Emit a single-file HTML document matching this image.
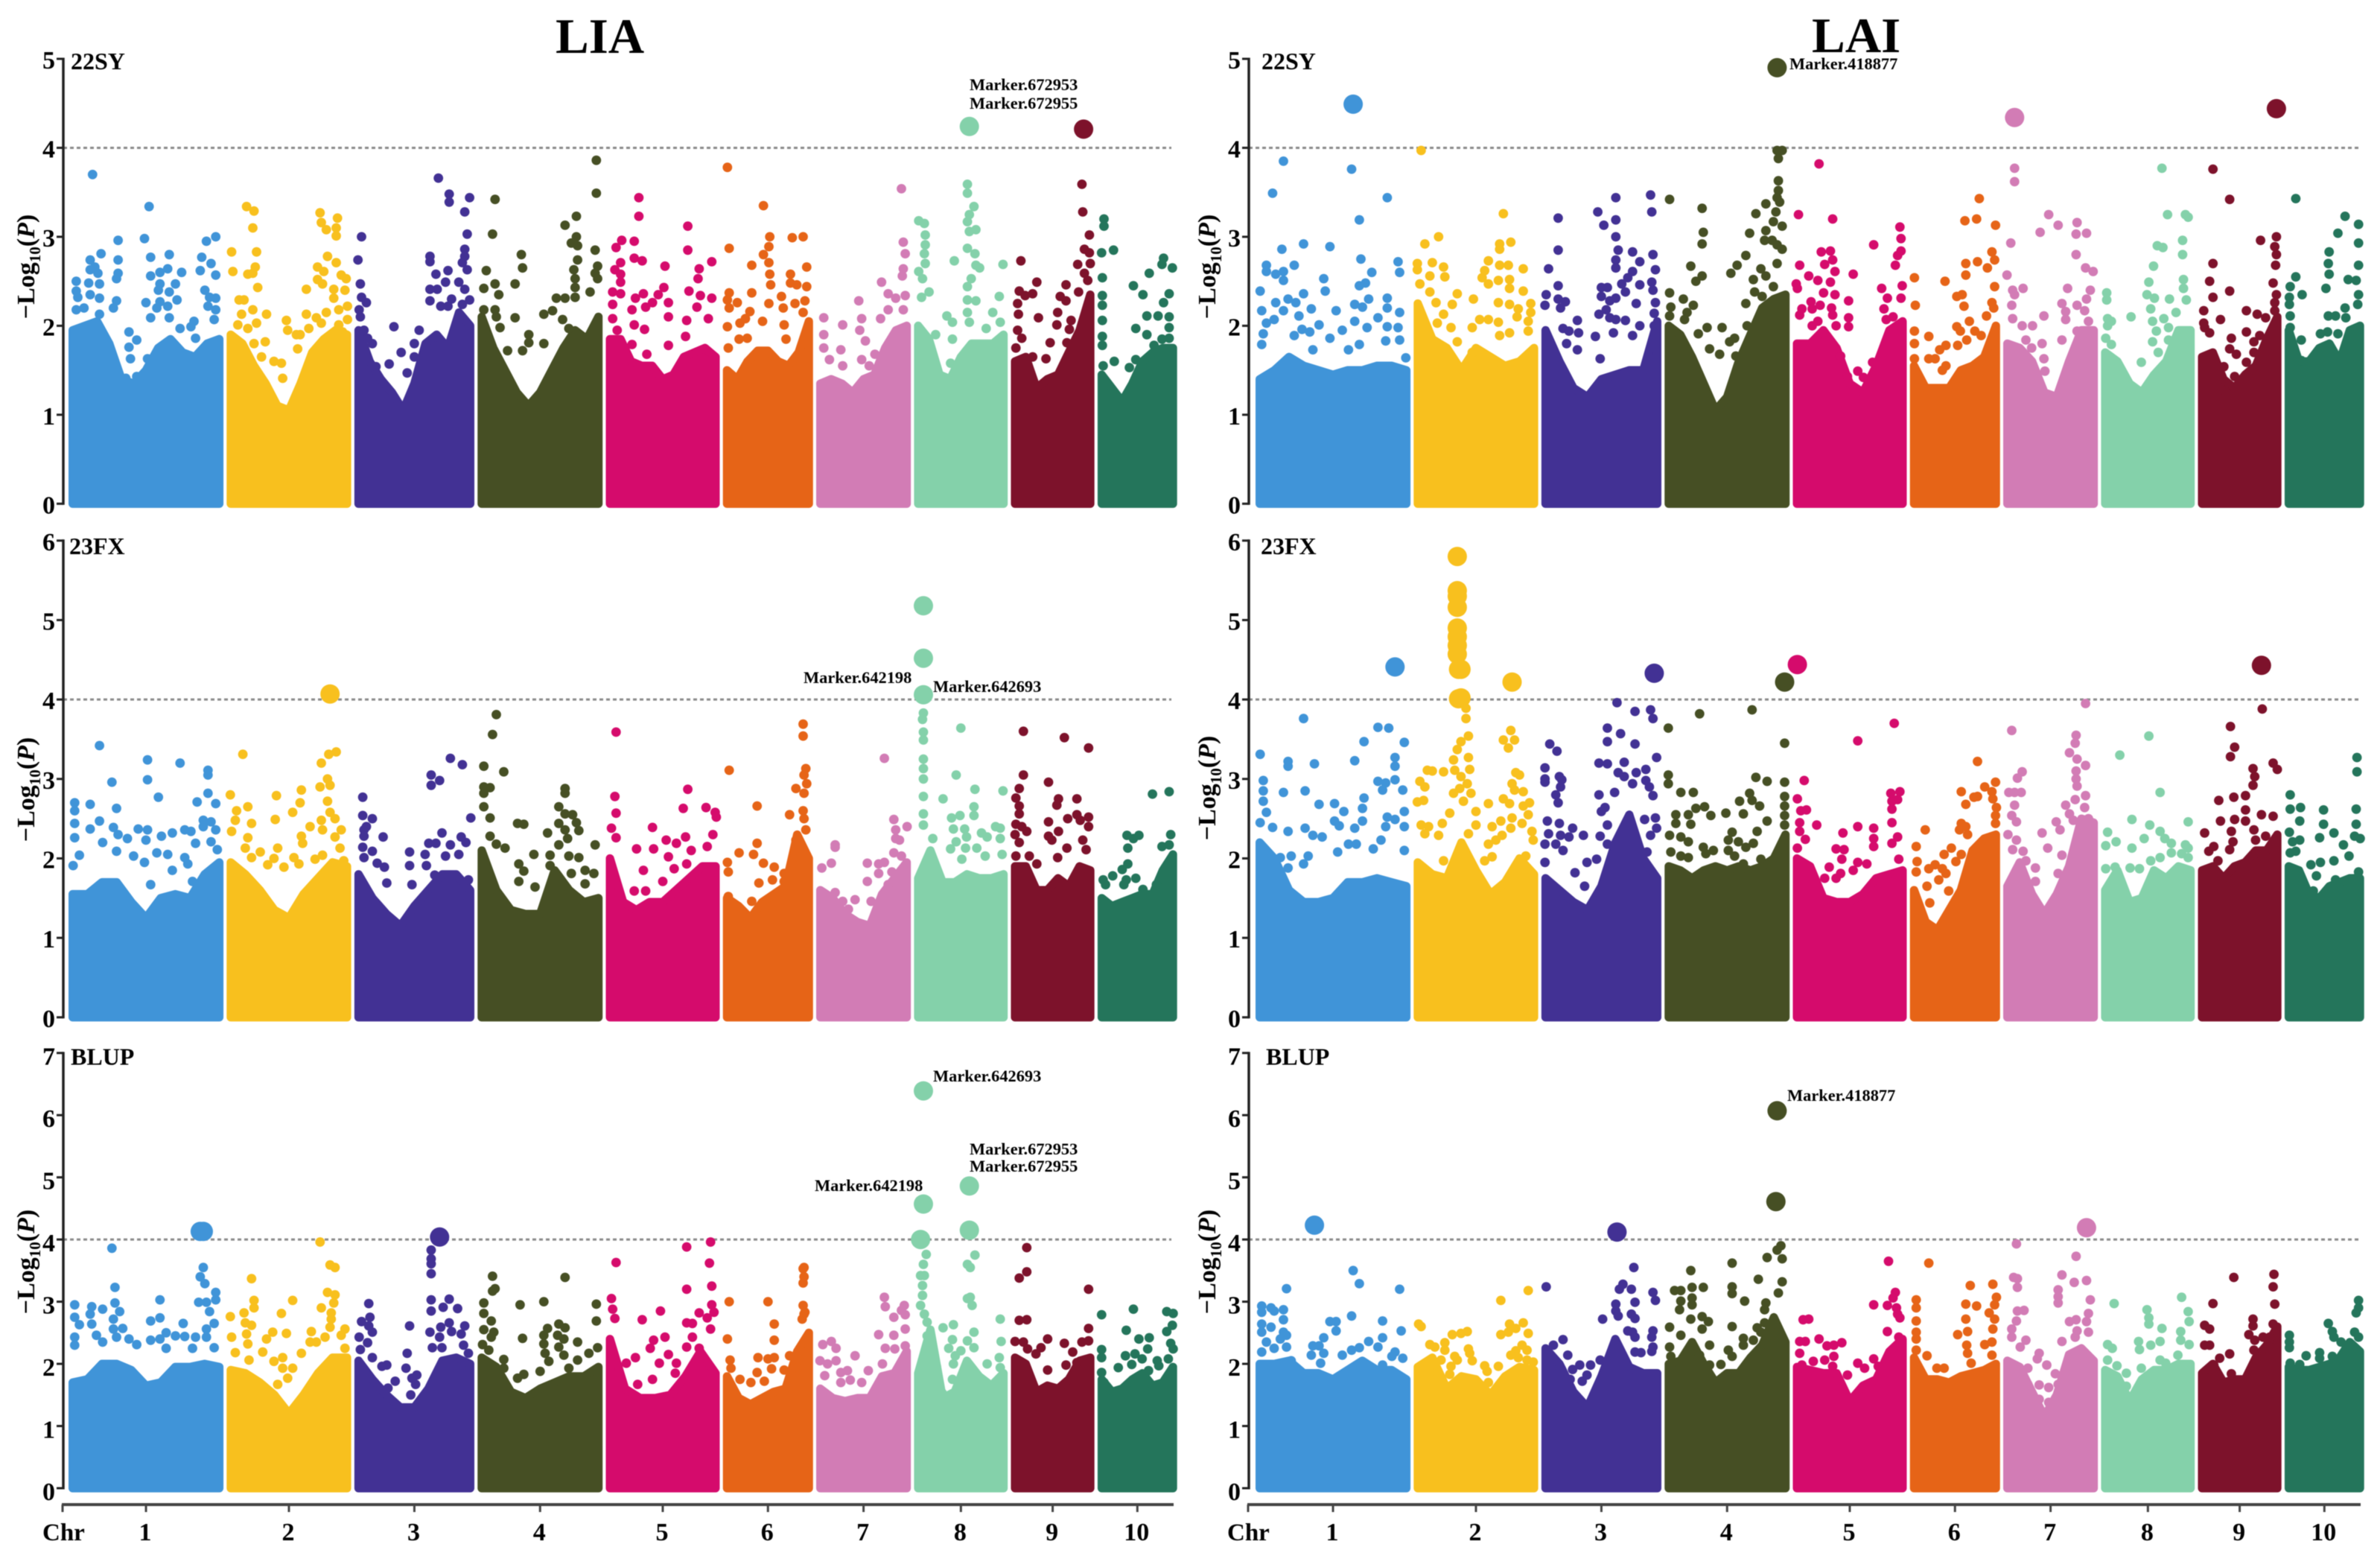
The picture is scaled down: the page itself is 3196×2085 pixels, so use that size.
<!DOCTYPE html>
<html lang="en">
<head>
<meta charset="utf-8">
<title>Manhattan plots of LIA and LAI</title>
<style>
html,body{margin:0;padding:0;background:#fff;}
#chart{display:block;filter:blur(.6px);}
text{font-family:"Liberation Serif",serif;font-weight:bold;fill:#000;}
</style>
</head>
<body>
<svg id="chart" xmlns="http://www.w3.org/2000/svg" width="3196" height="2085" viewBox="0 0 3196 2085">
<rect width="3196" height="2085" fill="#fff"/>
<text x="746" y="71" font-size="67">LIA</text>
<text x="2433" y="70" font-size="67">LAI</text>
<g id="plots"></g>
</svg>
<script>
// Shared categories and tick labels
const chrLabels = ["1","2","3","4","5","6","7","8","9","10"];
const chrLengthsMb = [306,246,237,247,225,178,187,185,165,157];
const yMaxima = [5,6,7];
const threshold = [4];
const panelTags = ["22SY","23FX","BLUP"];
const chrColors = ["#4094D8","#F8C01E","#423194","#464F24","#D50B6C","#E66417","#D27CB5","#84D1AA","#7D122B","#24755B"];

// LIA 22SY: solid-mass top per chromosome, scatter pairs (pct along chr, -log10P), highlighted peaks (chr, pct, -log10P)
const lia22syMass = [
[1.95,2.0,2.05,1.8,1.4,1.35,1.5,1.75,1.85,1.7,1.65,1.8,1.85],
[1.9,1.8,1.55,1.35,1.1,1.05,1.35,1.7,1.85,1.95,1.9],
[1.95,1.6,1.4,1.25,1.05,1.35,1.8,1.9,1.75,2.15,2.0],
[2.1,1.75,1.5,1.25,1.1,1.25,1.5,1.75,1.95,1.85,2.1],
[1.85,1.85,1.6,1.55,1.55,1.4,1.45,1.65,1.7,1.75,1.65],
[1.5,1.4,1.6,1.72,1.72,1.6,1.55,1.7,2.05],
[1.35,1.4,1.35,1.25,1.4,1.45,1.75,1.95,2.0],
[2.0,1.85,1.45,1.4,1.65,1.8,1.8,1.8,1.9],
[1.6,1.65,1.3,1.4,1.45,1.7,1.95,2.35],
[1.45,1.3,1.15,1.35,1.6,1.7,1.75,1.75]];
const lia22syDots = [
[15.5,3.7,52,3.34,49,2.98,32,2.96,95,3.0,89,2.95,53,2.77,65,2.8,86,2.77,21,2.81,14,2.74,32,2.74,17,2.66,92,2.7,73,2.6,85,2.62,95,2.57,53,2.56,59,2.6,64,2.64,32,2.59,31,2.53,14,2.63,19,2.59,5,2.5,13,2.48,20,2.47,59,2.47,69,2.47,5,2.39,14,2.35,58,2.4,65,2.38,88,2.4,6,2.32,20,2.31,70,2.29,31,2.28,95,2.31,91,2.32,50,2.26,59,2.27,10,2.2,5,2.18,29,2.2,57,2.2,64,2.22,95,2.18,90,2.22,53,2.09,20,2.13,65,2.09,81,2.05,94,2.07,39,1.93,44,1.84,72,1.97,82,1.86,79,1.99,39,1.76,40,1.63,51,1.63,37,1.41,44,1.43],
[16,3.34,22,3.29,21,3.1,24,2.83,4,2.83,5,2.61,17,2.58,23,2.66,21,2.59,25,2.43,10,2.29,14,2.29,12,2.13,21,2.18,32,2.13,24,2.03,9,2.01,17,1.97,31,1.82,22,1.8,28,1.65,38,1.6,44,1.58,48,2.06,49,1.95,56,1.9,45,1.41,59,1.9,57,1.74,75,3.27,76,3.16,80,3.08,89,3.21,88,3.1,88,3.01,81,2.78,73,2.66,78,2.61,88,2.71,73,2.52,77,2.47,92,2.57,96,2.53,64,2.41,86,2.41,95,2.4,86,2.31,97,2.22,64,2.13,80,2.15,90,2.18,72,2.09,97,2.07,76,2.03,66,1.97,90,2.01,93,1.93],
[6,3.0,3,2.74,5,2.47,6,2.32,10,2.26,4,2.18,5,2.1,8,1.95,15,1.8,11,1.86,18,1.54,33,1.99,54,1.95,50,1.8,39,1.7,50,1.65,29,1.57,44,1.47,70,3.66,79,3.48,79,3.39,96,3.44,92,3.28,94,3.03,92,2.86,92,2.78,63,2.78,63,2.72,90,2.71,94,2.63,78,2.62,68,2.58,76,2.49,87,2.49,63,2.41,69,2.41,92,2.41,63,2.28,81,2.3,96,2.29,72,2.22,78,2.22,90,2.24],
[95,3.86,95,3.49,14,3.42,12,3.03,79,3.23,70,3.13,79,3.0,75,2.93,80,2.9,94,2.85,35,2.8,80,2.74,96,2.67,36,2.65,7,2.62,77,2.63,94,2.59,96,2.53,78,2.53,14,2.47,5,2.42,30,2.47,78,2.43,17,2.35,90,2.38,63,2.31,70,2.31,78,2.32,60,2.17,53,2.13,30,2.09,14,2.18,15,2.1,5,2.18,18,1.98,41,1.9,41,1.81,53,1.8,68,2.07,73,1.97,36,1.72,24,1.72],
[29,3.44,29,3.23,14,2.96,9,2.88,25,2.95,25,2.76,32,2.73,13,2.71,8,2.63,13,2.58,13,2.49,6,2.38,13,2.36,33,2.36,26,2.31,35,2.21,41,2.26,46,2.35,51,2.43,55,2.26,55,2.1,52,2.67,72,3.12,72,2.85,93,2.72,82,2.64,81,2.53,73,2.39,83,2.34,93,2.31,6,2.24,6,2.08,23,2.18,25,2.01,34,1.96,23,1.79,71,2.06,80,2.21,90,2.08,70,1.88,55,1.78,36,1.68,10,1.95],
[5,3.78,45,3.35,7,2.87,52,3.0,77,2.99,89,3.0,51,2.89,45,2.8,93,2.66,32,2.68,51,2.71,52,2.58,75,2.58,53,2.46,75,2.48,82,2.46,93,2.44,7,2.37,32,2.37,5,2.29,16,2.26,7,2.2,65,2.33,80,2.25,91,2.28,51,2.25,67,2.2,30,2.16,19,2.03,25,2.08,5,1.99,44,2.05,68,2.01,70,1.85,18,1.85,27,1.86,6,1.75,89,2.15],
[90,3.54,92,2.94,94,2.81,92,2.64,91,2.56,69,2.49,76,2.36,94,2.34,84,2.31,45,2.28,8,2.09,28,2.01,48,2.08,76,2.18,92,2.18,68,2.08,8,1.9,46,1.95,52,1.83,8,1.75,26,1.73,48,1.62,14,1.62,62,1.68,56,1.55,28,1.55],
[57,3.59,57,3.49,64,3.34,59,3.25,57,3.17,66,3.08,59,3.06,5,3.18,11,3.15,12,3.02,12,2.91,11,2.81,12,2.7,5,2.61,9,2.53,16,2.38,8,2.32,43,2.73,57,2.87,65,2.81,66,2.68,70,2.65,95,2.69,61,2.53,57,2.44,91,2.33,57,2.29,66,2.28,57,2.15,84,2.15,35,2.11,41,2.04,59,2.04,77,1.97,92,2.04,23,1.9,41,1.85,39,1.58],
[85,3.59,86,3.28,94,3.02,88,2.86,94,2.82,80,2.69,95,2.7,12,2.73,88,2.59,92,2.51,31,2.49,66,2.46,10,2.39,26,2.36,17,2.34,81,2.38,59,2.33,66,2.28,8,2.25,56,2.15,9,2.13,33,2.09,72,2.06,55,2.01,70,1.96,8,1.95,13,1.86,47,1.81,67,1.81,6,1.75,26,1.65,42,1.63],
[8,3.2,8,3.12,20,2.85,5,2.82,6,2.54,6,2.34,6,2.23,6,2.06,6,1.88,6,1.78,7,1.55,21,1.6,48,1.62,83,2.76,81,2.69,94,2.65,65,2.59,45,2.45,57,2.35,90,2.36,83,2.26,90,2.1,62,2.11,76,2.11,48,1.97,90,1.98,62,1.9,81,1.85,90,1.86,71,1.78,40,1.53]];
const lia22syPeaks = [[8,59,4.24],[9,87,4.21]];

// LIA 23FX
const lia23fxMass = [
[1.55,1.55,1.7,1.7,1.45,1.25,1.5,1.55,1.5,1.8,1.95],
[1.95,1.8,1.6,1.35,1.25,1.55,1.75,1.95,1.9],
[1.8,1.5,1.3,1.15,1.4,1.6,1.8,1.8,1.6],
[2.1,1.6,1.35,1.3,1.3,1.85,1.6,1.45,1.5],
[2.0,1.45,1.35,1.45,1.45,1.6,1.75,1.9,1.9],
[1.5,1.4,1.25,1.45,1.55,1.65,2.3,2.0],
[1.6,1.5,1.3,1.2,1.15,1.55,1.75,1.95],
[1.75,2.1,1.7,1.7,1.8,1.75,1.75,1.8],
[1.9,1.9,1.6,1.6,1.75,1.65,1.9,1.85],
[1.5,1.4,1.45,1.5,1.55,1.55,1.85,2.05]];
const lia23fxDots = [
[20,3.42,51,3.24,72,3.2,90,3.11,90,3.05,28,2.96,51,2.99,58,2.77,90,2.82,4,2.7,14,2.68,4,2.6,31,2.63,83,2.71,95,2.69,4,2.44,20,2.47,14,2.37,29,2.39,45,2.37,51,2.36,4,2.26,32,2.3,60,2.28,67,2.32,75,2.36,79,2.34,87,2.48,92,2.46,95,2.36,87,2.4,38,2.25,50,2.23,22,2.2,82,2.19,92,2.21,57,2.07,7,2.04,42,2.03,31,2.09,64,2.05,75,2.01,96,2.11,3,1.91,49,1.95,77,1.93,67,1.85,53,1.67,80,1.71],
[13,3.31,88,3.34,82,3.31,76,3.2,81,3.0,75,2.9,83,2.92,60,2.86,3,2.8,40,2.79,59,2.7,81,2.72,17,2.65,53,2.58,8,2.6,83,2.58,7,2.48,39,2.49,76,2.48,87,2.5,20,2.44,67,2.4,77,2.36,92,2.36,4,2.34,60,2.28,61,2.19,87,2.27,17,2.26,41,2.13,15,2.13,91,2.13,27,2.08,54,2.01,77,2.04,38,2.0,20,2.01,94,1.97,58,1.93,33,1.92,71,1.99,46,1.89],
[80,3.26,90,3.18,64,3.05,64,2.92,71,2.98,7,2.77,7,2.54,15,2.5,97,2.51,8,2.36,10,2.4,8,2.28,24,2.27,73,2.32,89,2.27,62,2.19,68,2.19,93,2.2,80,2.17,7,2.14,15,2.09,46,2.08,59,2.05,87,2.05,8,2.01,46,1.91,19,1.94,25,1.89,60,1.91,76,2.03,67,1.79,48,1.67,27,1.69,95,1.73],
[15,3.81,12,3.56,5,3.16,21,3.09,70,2.88,5,2.9,10,2.89,5,2.82,70,2.82,5,2.65,65,2.65,10,2.51,70,2.56,76,2.55,32,2.44,37,2.43,65,2.44,79,2.45,56,2.32,70,2.36,81,2.35,72,2.25,10,2.28,15,2.18,22,2.13,94,2.17,65,2.17,45,2.05,58,2.04,81,2.01,73,2.03,58,1.91,33,1.93,86,1.85,37,1.84,93,1.81,75,1.81,33,1.71,46,1.64,86,1.68],
[9,3.59,72,2.87,8,2.78,9,2.57,68,2.63,88,2.64,97,2.52,96,2.58,5,2.38,41,2.39,94,2.3,53,2.23,70,2.27,62,2.19,27,2.12,42,2.12,75,2.1,89,2.15,9,2.26,55,2.02,33,1.85,60,1.87,71,1.93,50,1.71,25,1.59,35,1.59],
[89,3.69,89,3.54,7,3.11,92,3.13,90,3.05,93,2.94,81,2.88,90,2.82,38,2.66,74,2.55,89,2.6,90,2.5,92,2.36,81,2.23,38,2.19,18,2.07,34,2.05,5,1.95,45,1.94,77,1.93,57,1.89,68,1.81,6,1.83,55,1.73,40,1.69,68,1.71,32,1.46,6,1.52],
[72,3.26,20,2.17,20,2.14,82,2.49,84,2.36,96,2.4,84,2.25,88,2.23,82,2.07,90,2.03,54,1.94,66,1.93,72,1.95,16,1.94,6,1.88,66,1.81,80,1.83,54,1.71,76,1.67,20,1.57,41,1.48,28,1.46,58,1.46,34,1.36],
[10,3.83,9,3.75,10,3.59,10,3.49,10,3.25,10,3.13,10,3.0,10,2.78,50,3.64,45,3.05,65,2.87,95,2.85,31,2.75,64,2.65,64,2.54,40,2.51,49,2.54,10,2.56,10,2.42,87,2.4,42,2.37,54,2.37,72,2.32,92,2.38,20,2.25,56,2.27,78,2.27,92,2.25,45,2.21,55,2.13,67,2.13,39,2.12,94,2.05,76,2.03,51,1.99],
[15,3.6,64,3.52,93,3.39,15,3.05,45,2.96,10,2.88,6,2.76,57,2.75,79,2.75,55,2.67,10,2.66,10,2.56,68,2.5,79,2.55,93,2.52,83,2.48,45,2.46,6,2.43,93,2.4,13,2.4,57,2.34,19,2.34,5,2.3,45,2.28,49,2.23,10,2.2,86,2.23,67,2.13,90,2.11,6,2.03,22,2.03,56,2.01,31,1.93],
[69,2.81,90,2.84,37,2.29,52,2.29,45,2.25,92,2.3,38,2.13,81,2.15,90,2.17,38,1.93,31,1.86,19,1.78,7,1.73,10,1.67,36,1.73,48,1.75,33,1.67,57,1.61,74,1.67]];
const lia23fxPeaks = [[2,83,4.07],[8,10,5.18],[8,10,4.52],[8,10,4.06]];

// LIA BLUP
const liaBlupMass = [
[1.7,1.75,2.0,2.0,1.9,1.65,1.7,1.95,1.95,2.0,1.95],
[1.9,1.85,1.7,1.5,1.2,1.5,1.85,2.1,2.1],
[2.05,1.75,1.5,1.3,1.3,1.6,2.05,2.1,2.0],
[2.1,1.95,1.55,1.45,1.6,1.7,1.8,1.8,1.95],
[2.4,1.6,1.45,1.45,1.5,1.8,2.2,1.85],
[1.8,1.45,1.35,1.45,1.55,1.6,2.2,2.5],
[1.6,1.45,1.4,1.45,1.45,1.8,1.85,2.2],
[1.85,2.55,1.45,1.55,2.05,1.8,1.65,1.85],
[2.1,2.0,1.55,1.65,1.6,1.75,2.05,2.1],
[1.75,1.55,1.6,1.75,1.85,1.65,1.7,1.95]];
const liaBlupDots = [
[28,3.86,30,3.23,87,3.55,85,3.4,88,3.29,95,3.15,95,3.03,84,2.99,89,2.99,91,2.84,59,3.03,4,2.95,4,2.75,7,2.63,15,2.92,22,2.88,30,2.98,14,2.8,33,2.84,29,2.72,15,2.64,59,2.74,53,2.69,74,2.65,94,2.65,29,2.56,35,2.57,89,2.56,18,2.46,4,2.43,31,2.43,63,2.5,69,2.45,75,2.44,82,2.43,53,2.38,59,2.4,39,2.4,44,2.31,89,2.43,4,2.3,22,2.35,94,2.26,80,2.25,63,2.25],
[75,3.96,83,3.59,87,3.55,20,3.37,81,3.15,87,3.11,22,3.02,53,3.02,86,2.98,76,2.9,3,2.76,14,2.82,22,2.9,44,2.81,84,2.82,15,2.66,20,2.62,84,2.72,83,2.59,68,2.52,95,2.56,37,2.51,48,2.49,4,2.43,16,2.48,32,2.4,79,2.43,92,2.46,17,2.32,67,2.35,72,2.35,95,2.25,7,2.18,29,2.19,60,2.17,45,2.1,38,2.04,53,1.93,45,1.93,49,1.77,41,1.67,18,2.06],
[64,3.83,64,3.69,64,3.61,64,3.45,12,2.97,64,3.03,79,3.04,74,2.91,86,2.89,64,2.85,13,2.75,6,2.68,12,2.61,46,2.61,79,2.66,72,2.59,92,2.61,15,2.51,63,2.51,81,2.52,71,2.43,4,2.43,89,2.48,11,2.34,5,2.23,65,2.26,73,2.26,91,2.3,44,2.17,15,2.1,95,2.17,27,1.98,43,1.93,23,1.96,52,1.82,48,1.77,34,1.72,51,1.67,28,1.61,47,1.5],
[12,3.41,14,3.21,12,3.17,70,3.39,53,3.0,5,2.98,34,2.95,95,2.96,5,2.81,11,2.69,95,2.69,56,2.57,65,2.64,70,2.58,5,2.55,13,2.51,53,2.46,64,2.46,36,2.41,11,2.43,69,2.4,80,2.35,53,2.32,4,2.31,96,2.26,89,2.17,65,2.27,9,2.22,54,2.17,69,2.14,21,2.07,80,2.06,57,2.04,21,1.93,73,1.93,50,1.88,37,1.83,32,1.77],
[9,3.63,71,3.88,92,3.96,91,3.62,93,3.25,71,3.2,5,3.05,93,2.95,6,2.88,8,2.73,48,2.85,32,2.71,82,2.82,95,2.83,71,2.66,76,2.65,89,2.74,92,2.56,52,2.43,42,2.38,76,2.43,39,2.25,71,2.27,82,2.25,55,2.15,26,2.1,18,2.01,47,2.01,62,2.01,41,1.75,61,1.85,28,1.67],
[50,3.0,57,2.64,57,2.38,74,2.13,89,3.53,90,3.55,90,3.4,89,3.3,89,2.94,90,2.8,88,2.72,91,2.83,39,2.1,50,2.08,57,2.1,38,1.86,54,1.92,31,1.7,46,1.72,68,1.9,83,1.94,7,3.0,5,2.4,8,2.06,9,1.93,19,1.75],
[72,3.07,73,2.92,93,2.94,90,2.86,94,2.79,82,2.75,66,2.47,82,2.46,94,2.56,7,2.31,16,2.36,21,2.25,73,2.25,83,2.24,41,2.13,4,2.05,21,2.05,12,2.0,94,2.29,70,2.0,26,1.86,33,1.89,55,1.89,36,1.74,26,1.7,85,1.86,9,1.81,48,1.7],
[13,3.76,65,3.75,10,3.6,57,3.6,60,3.55,7,3.42,11,3.42,9,3.26,9,3.1,57,3.05,60,3.07,62,2.94,7,2.94,11,2.8,14,2.67,92,2.72,31,2.58,42,2.63,64,2.51,41,2.39,57,2.37,93,2.36,14,2.45,37,2.25,50,2.21,64,2.26,91,2.1,44,2.13,42,2.0,78,2.0,24,1.95,92,1.94,41,1.75,23,1.78,30,1.53],
[19,3.87,19,3.48,10,3.38,93,3.2,10,2.7,19,2.71,93,2.57,93,2.37,85,2.35,44,2.4,5,2.36,15,2.35,36,2.26,64,2.33,30,2.16,20,2.24,74,2.19,79,2.02,66,1.98,44,1.9],
[5,2.79,45,2.88,87,2.84,95,2.81,94,2.62,36,2.54,87,2.52,52,2.4,65,2.42,92,2.33,5,2.23,63,2.24,95,2.24,5,2.1,35,2.13,47,2.16,56,2.08,75,2.05,89,2.08,26,1.94,5,1.86,43,1.99,64,1.89,77,1.97,8,1.7]];
const liaBlupPeaks = [[1,85,4.13],[1,87,4.13],[3,71,4.04],[8,10,6.39],[8,10,4.57],[8,7,4.0],[8,59,4.86],[8,59,4.15]];

// LAI 22SY
const lai22syMass = [
[1.4,1.5,1.65,1.55,1.5,1.45,1.5,1.5,1.55,1.55,1.5],
[2.25,1.85,1.75,1.5,1.75,1.65,1.55,1.6,1.75],
[1.95,1.6,1.3,1.2,1.4,1.45,1.5,1.5,2.05],
[2.0,1.9,1.65,1.35,1.05,1.2,1.6,1.9,2.2,2.3,2.35],
[1.8,1.8,1.95,1.75,1.35,1.25,1.55,1.95,2.05],
[1.55,1.3,1.3,1.3,1.5,1.55,1.65,2.0],
[1.8,1.75,1.6,1.25,1.2,1.6,1.95,1.95],
[1.7,1.6,1.35,1.25,1.45,1.6,1.95,1.95],
[1.65,1.7,1.4,1.3,1.45,1.55,1.85,2.1],
[1.95,1.6,1.6,1.75,1.8,1.6,1.95,2.0]];
const lai22syDots = [
[18,3.85,11,3.49,62,3.76,85,3.44,67,3.19,31,2.92,17,2.86,48,2.89,7,2.68,25,2.68,68,2.75,92,2.72,7,2.61,18,2.61,13,2.58,75,2.6,93,2.6,18,2.51,44,2.53,3,2.39,45,2.39,67,2.45,71,2.48,31,2.36,21,2.3,26,2.26,13,2.26,85,2.31,73,2.3,64,2.24,69,2.21,85,2.2,4,2.17,36,2.19,52,2.17,18,2.17,93,2.15,28,2.11,79,2.09,7,2.03,12,2.07,41,2.01,35,1.93,30,1.96,56,1.95,64,2.05,72,1.98,85,1.99,92,1.98,5,1.91,25,1.89,48,1.86,84,1.83,4,1.79,93,1.84,37,1.73,60,1.73,67,1.79,97,1.64],
[6,3.97,72,3.26,20,3.0,9,2.92,78,2.94,69,2.92,69,2.86,3,2.7,15,2.71,24,2.66,60,2.73,69,2.68,76,2.68,88,2.64,57,2.62,3,2.63,13,2.56,25,2.55,68,2.51,77,2.52,55,2.54,5,2.47,60,2.47,77,2.42,88,2.39,35,2.36,48,2.3,13,2.38,68,2.26,18,2.26,31,2.24,77,2.24,94,2.25,84,2.19,94,2.15,24,2.13,83,2.1,53,2.07,60,2.07,68,2.04,92,2.05,19,2.03,30,1.98,47,1.98,92,1.94,77,1.92,69,1.89,35,1.82,47,1.7],
[14,3.21,62,3.44,91,3.47,92,3.28,47,3.28,52,3.13,62,3.19,62,3.0,14,2.85,64,2.85,76,2.83,93,2.8,6,2.64,62,2.74,82,2.72,62,2.65,76,2.61,95,2.63,72,2.54,67,2.47,82,2.46,14,2.45,92,2.49,50,2.43,55,2.43,70,2.38,93,2.4,4,2.35,50,2.33,62,2.31,95,2.26,14,2.3,20,2.27,79,2.25,3,2.23,16,2.2,57,2.28,54,2.18,48,2.13,94,2.14,57,2.09,62,2.07,70,2.06,30,2.06,82,2.0,94,2.0,18,1.97,23,1.94,31,1.92,45,1.88,60,1.92,76,1.89,21,1.8,30,1.73,49,1.63],
[90,3.97,94,3.97,91,3.88,91,3.63,4,3.42,30,3.32,91,3.52,90,3.44,92,3.39,81,3.37,73,3.26,89,3.28,31,3.05,68,3.04,87,3.17,94,3.12,81,3.07,30,2.92,80,2.96,86,2.96,90,2.91,94,2.86,65,2.79,58,2.68,21,2.67,77,2.64,90,2.7,53,2.59,30,2.56,25,2.5,71,2.52,81,2.56,4,2.37,72,2.38,87,2.44,78,2.33,15,2.3,5,2.21,23,2.23,65,2.25,4,2.11,18,2.15,16,2.07,66,2.0,46,1.98,34,1.98,27,1.91,56,1.86,52,1.82,36,1.74,44,1.68,57,1.66,60,1.54],
[23,3.82,5,3.25,35,3.2,94,3.11,95,2.98,71,2.91,25,2.83,33,2.84,95,2.84,6,2.68,28,2.69,35,2.74,92,2.79,90,2.68,14,2.56,22,2.51,37,2.61,53,2.58,33,2.49,3,2.47,4,2.42,78,2.42,96,2.45,27,2.37,37,2.35,83,2.31,95,2.31,49,2.28,16,2.27,24,2.23,8,2.19,17,2.19,34,2.2,80,2.19,49,2.09,49,1.99,6,2.12,22,2.05,35,2.12,82,2.07,88,2.1,38,2.0,17,2.0,42,1.66,70,1.59,57,1.49,48,1.43,62,1.42],
[77,3.43,61,3.18,74,3.2,95,3.13,91,2.83,62,2.7,75,2.72,94,2.74,86,2.65,62,2.57,5,2.54,39,2.5,94,2.44,6,2.23,52,2.33,58,2.35,91,2.26,60,2.22,93,2.2,85,2.11,66,2.05,5,1.94,21,1.88,52,1.99,72,1.94,56,1.94,79,1.89,63,1.84,5,1.8,53,1.78,33,1.73,40,1.78,21,1.63,28,1.63,40,1.55,5,1.63,36,1.5],
[12,3.77,12,3.62,48,3.25,58,3.13,78,3.16,39,3.05,77,3.03,88,3.04,8,2.93,77,2.8,87,2.65,95,2.61,4,2.57,10,2.4,21,2.42,68,2.42,92,2.4,12,2.35,9,2.23,88,2.3,62,2.25,78,2.23,10,2.08,43,2.11,66,2.16,86,2.17,20,2.0,31,2.0,66,2.07,90,2.05,41,1.8,24,1.84,78,1.94,43,1.63,30,1.75,62,1.84,44,1.49],
[65,3.77,71,3.25,90,3.25,93,3.22,87,2.96,60,2.9,66,2.88,87,2.8,56,2.67,88,2.52,51,2.49,6,2.37,88,2.42,6,2.29,49,2.35,57,2.31,73,2.3,91,2.29,53,2.19,80,2.15,32,2.1,7,2.08,11,2.05,67,2.08,55,2.05,7,2.0,72,1.98,5,1.86,59,1.94,55,1.82,72,1.84,11,1.79,61,1.7,43,1.59],
[18,3.76,38,3.42,75,2.96,94,3.0,92,2.89,94,2.8,93,2.68,18,2.7,14,2.5,90,2.48,38,2.39,18,2.32,94,2.35,92,2.26,7,2.17,58,2.17,71,2.13,81,2.09,92,2.17,27,2.07,7,2.03,8,1.98,14,1.92,58,1.93,74,1.89,40,1.86,67,1.82,38,1.74,46,1.68,67,1.7,58,1.59,31,1.54,44,1.43,32,1.27],
[14,3.43,76,3.23,93,3.14,67,3.04,93,2.93,56,2.83,55,2.7,93,2.68,56,2.58,14,2.55,80,2.52,90,2.51,7,2.44,52,2.42,22,2.35,93,2.35,6,2.32,6,2.24,76,2.2,92,2.24,7,2.11,55,2.11,64,2.11,77,2.09,7,1.98,21,1.84,45,1.91,67,1.91,54,1.93,21,1.61]];
const lai22syPeaks = [[1,63,4.49],[4,90,4.9],[7,12,4.34],[9,94,4.44]];

// LAI 23FX
const lai23fxMass = [
[2.2,2.0,1.6,1.45,1.45,1.5,1.7,1.7,1.75,1.7,1.65],
[1.95,1.8,1.75,2.2,1.85,1.55,1.7,2.0,1.8],
[1.75,1.6,1.45,1.35,1.65,2.2,2.55,2.0,1.75],
[1.9,1.85,1.75,1.85,1.9,1.85,1.9,1.85,1.9,2.0,2.3],
[2.0,1.9,1.5,1.45,1.45,1.55,1.75,1.8,1.85],
[1.6,1.2,1.1,1.35,1.6,2.1,2.25,2.3],
[1.65,1.95,1.55,1.3,1.55,1.9,2.5,2.45],
[1.6,1.85,1.45,1.5,1.85,1.75,1.9,1.85],
[1.85,1.9,1.75,1.9,1.95,2.1,2.1,2.3],
[1.9,1.85,1.55,1.5,1.65,1.7,1.75,1.75]];
const lai23fxDots = [
[31,3.76,79,3.65,86,3.64,70,3.47,96,3.46,3,3.31,21,3.22,21,3.16,38,3.19,64,3.23,90,3.27,90,3.16,5,2.98,90,2.99,79,2.97,84,2.95,5,2.85,32,2.85,18,2.83,95,2.86,82,2.86,5,2.72,70,2.76,41,2.68,51,2.69,69,2.63,7,2.58,57,2.59,96,2.59,85,2.52,90,2.49,3,2.45,51,2.47,69,2.47,11,2.39,21,2.34,32,2.38,54,2.41,64,2.38,96,2.4,84,2.4,43,2.27,37,2.29,81,2.23,65,2.18,60,2.18,16,2.01,23,2.03,34,2.03,53,2.08,76,2.12,96,2.1,31,1.93,21,1.88],
[42,3.89,42,3.76,78,3.61,81,3.49,72,3.49,76,3.39,44,3.54,38,3.47,35,3.37,32,3.24,44,3.27,45,3.12,11,3.11,15,3.1,24,3.09,33,3.11,38,3.03,82,3.08,85,3.05,5,2.97,9,2.9,43,2.94,79,2.94,37,2.88,32,2.82,46,2.82,88,2.84,81,2.86,3,2.71,8,2.73,60,2.69,72,2.75,77,2.69,93,2.7,88,2.66,40,2.72,29,2.57,50,2.59,92,2.55,70,2.47,79,2.51,87,2.44,23,2.44,6,2.42,12,2.4,50,2.42,63,2.4,78,2.38,95,2.34,9,2.31,20,2.29,44,2.31,71,2.29,60,2.18,96,2.23,66,2.23,90,2.03,57,1.97,63,2.02,24,1.97],
[63,3.96,78,3.85,91,3.87,93,3.76,55,3.64,66,3.57,7,3.44,13,3.35,55,3.47,78,3.44,96,3.27,48,3.2,55,3.19,69,3.21,3,3.14,87,3.12,3,3.0,15,3.03,64,3.08,69,3.03,79,3.08,87,2.98,3,2.96,17,2.99,16,2.9,76,2.94,90,2.9,12,2.8,48,2.8,61,2.83,93,2.79,14,2.7,53,2.64,50,2.59,95,2.51,5,2.47,15,2.44,86,2.49,55,2.42,26,2.38,96,2.38,6,2.31,16,2.29,35,2.29,23,2.27,49,2.28,91,2.29,3,2.18,12,2.18,55,2.18,18,2.1,3,1.95,38,1.95,46,1.99,88,2.08,28,1.82,36,1.65],
[70,3.87,28,3.82,3,3.64,3,3.05,3,2.94,73,3.02,82,2.97,13,2.83,23,2.83,68,2.82,70,2.73,60,2.72,76,2.66,25,2.63,32,2.65,9,2.55,37,2.54,49,2.57,63,2.56,19,2.55,9,2.44,21,2.43,82,2.47,74,2.34,4,2.29,54,2.33,13,2.27,51,2.23,19,2.21,59,2.21,71,2.19,31,2.14,65,2.14,5,2.08,39,2.1,51,2.1,13,2.03,19,2.01,33,2.06,56,2.03,77,1.99,63,1.93,96,3.45,96,2.96,96,2.78,96,2.66,96,2.54,96,2.42],
[89,3.7,57,3.48,10,2.98,4,2.75,86,2.82,94,2.84,92,2.74,87,2.72,7,2.6,12,2.61,87,2.62,87,2.45,6,2.45,21,2.42,57,2.4,71,2.38,6,2.34,44,2.32,71,2.25,11,2.24,92,2.27,71,2.15,87,2.19,4,2.13,38,2.12,45,2.11,43,1.99,93,1.99,57,1.95,65,1.93,32,1.89,53,1.85,42,1.81,28,1.75,38,1.75],
[75,3.22,95,2.96,83,2.9,57,2.84,91,2.84,71,2.77,75,2.78,92,2.75,62,2.68,96,2.64,95,2.54,95,2.44,57,2.44,62,2.4,17,2.36,55,2.36,64,2.3,7,2.15,46,2.13,38,2.05,8,1.96,57,2.05,51,1.96,28,1.92,21,1.87,36,1.87,7,1.83,40,1.81,32,1.73,19,1.65,43,1.59,22,1.44],
[87,3.95,9,3.61,77,3.55,76,3.45,70,3.33,78,3.25,87,3.17,20,3.09,15,3.01,77,3.1,77,3.0,78,2.91,6,2.83,12,2.83,19,2.83,87,2.79,76,2.74,12,2.67,66,2.67,86,2.64,9,2.54,70,2.56,14,2.46,56,2.46,74,2.48,90,2.5,5,2.3,41,2.32,60,2.36,14,2.23,10,2.11,47,2.13,21,2.09,62,2.04,34,1.88,24,1.97,58,1.81,34,1.71],
[51,3.54,20,3.3,63,2.83,33,2.49,93,2.46,52,2.42,7,2.33,63,2.34,16,2.21,46,2.25,5,2.16,33,2.13,68,2.25,75,2.19,90,2.17,93,2.13,75,2.07,63,2.01,86,2.06,93,2.01,15,1.89,5,1.87,31,1.88,41,1.87,53,1.97],
[77,3.88,39,3.66,44,3.4,39,3.28,90,3.2,95,3.12,66,3.13,68,3.03,66,2.92,25,2.73,43,2.77,57,2.79,57,2.61,76,2.55,90,2.53,27,2.47,44,2.49,57,2.47,8,2.32,40,2.34,67,2.36,81,2.28,19,2.15,42,2.21,69,2.23,13,2.09,38,2.11,67,2.05,24,1.97,92,2.11],
[91,3.27,91,3.09,7,2.8,7,2.62,20,2.64,49,2.61,90,2.62,19,2.47,49,2.43,90,2.43,6,2.33,62,2.32,44,2.26,88,2.28,95,2.25,10,2.21,19,2.23,74,2.17,7,2.07,14,2.09,81,2.03,33,1.92,45,1.95,62,1.97,40,1.78,93,1.83,64,1.73,36,1.59]];
const lai23fxPeaks = [[1,90,4.41],[2,35,5.8],[2,35,5.37],[2,35,5.3],[2,35,5.16],[2,35,4.9],[2,35,4.79],[2,35,4.68],[2,35,4.57],[2,36,4.38],[2,38,4.38],[2,36,4.01],[2,38,4.02],[2,79,4.22],[3,94,4.33],[4,96,4.22],[5,4,4.44],[9,76,4.43]];

// LAI BLUP
const laiBlupMass = [
[2.0,2.0,2.05,1.85,1.85,1.75,1.9,2.05,1.9,1.9,1.75],
[1.95,2.1,1.6,1.8,1.75,1.5,1.8,1.95,1.9],
[2.25,2.0,1.55,1.3,1.8,2.4,1.95,1.85,1.85],
[2.0,2.05,2.35,2.0,1.7,1.85,1.85,2.1,2.3,2.75,2.35],
[1.95,1.9,1.85,1.85,1.4,1.65,1.75,2.2,2.4],
[2.1,1.75,1.75,1.7,1.8,1.85,1.9,2.0],
[2.05,1.95,1.55,1.15,1.5,2.15,2.25,2.05],
[1.9,1.8,1.4,1.75,1.9,1.9,2.0,2.0],
[1.85,2.0,1.7,1.75,1.75,2.1,2.3,2.6],
[1.95,1.9,1.9,1.95,2.0,2.1,2.35,2.2]];
const laiBlupDots = [
[63,3.5,67,3.29,20,3.21,93,3.2,4,2.93,10,2.9,18,2.87,4,2.83,12,2.85,62,2.77,18,2.71,48,2.68,52,2.68,82,2.69,4,2.64,10,2.59,52,2.53,94,2.53,4,2.51,18,2.51,20,2.46,44,2.42,82,2.42,7,2.35,16,2.4,37,2.29,41,2.29,73,2.36,67,2.26,79,2.27,62,2.22,20,2.27,12,2.25,4,2.19,90,2.19,44,2.17,56,2.14,36,2.14,88,2.12,95,2.09,23,2.05,42,2.01,82,1.98],
[92,3.18,70,3.02,4,2.64,6,2.6,31,2.47,38,2.49,43,2.52,70,2.47,77,2.64,82,2.57,88,2.66,76,2.51,92,2.49,13,2.31,17,2.27,25,2.34,87,2.3,44,2.24,25,2.22,91,2.22,82,2.21,78,2.14,33,2.12,45,2.17,22,2.06,35,2.06,84,2.1,91,2.06,96,2.03,47,2.05,57,1.97,30,1.96,68,1.96,59,1.88,19,1.87,29,1.83,60,1.7,25,1.64,30,1.62],
[4,3.24,77,3.55,68,3.28,65,3.2,75,3.2,93,3.15,95,3.02,78,2.99,62,2.96,62,2.85,64,2.77,75,2.8,78,2.73,51,2.72,72,2.53,76,2.51,93,2.53,92,2.43,78,2.43,93,2.27,18,2.39,10,2.3,78,2.19,83,2.18,92,2.2,22,2.14,49,2.06,41,1.98,32,1.98,26,1.91,38,1.82,34,1.72,24,1.75],
[93,3.9,90,3.83,82,3.71,94,3.69,54,3.62,21,3.5,75,3.36,94,3.32,8,3.18,13,3.18,22,3.23,31,3.23,54,3.24,54,3.13,91,3.14,22,3.06,64,3.01,13,3.01,81,2.98,22,2.95,12,2.87,80,2.87,30,2.76,21,2.72,35,2.68,4,2.59,54,2.6,74,2.58,80,2.66,30,2.56,63,2.41,71,2.38,77,2.51,13,2.46,36,2.3,4,2.27,63,2.3,51,2.22,54,2.12,5,2.12,28,2.14,36,1.98,45,1.99],
[84,3.65,90,3.15,71,2.95,83,2.94,88,3.06,91,2.9,92,2.8,94,2.74,9,2.71,14,2.72,83,2.52,6,2.36,11,2.36,23,2.4,30,2.29,36,2.3,43,2.34,6,2.17,93,2.43,36,2.12,71,2.08,18,2.04,28,2.06,57,2.01,8,1.98,63,1.93,48,1.82,35,1.96,75,1.96],
[21,3.62,67,3.26,92,3.28,96,3.07,7,3.03,62,2.96,74,2.93,94,2.95,7,2.9,88,2.82,94,2.72,62,2.72,7,2.69,7,2.51,64,2.52,92,2.56,53,2.47,7,2.4,83,2.31,63,2.3,91,2.35,7,2.22,64,2.17,19,2.13,38,1.93,30,1.93,68,2.01,91,2.14],
[14,3.93,77,3.73,62,3.43,11,3.39,15,3.37,75,3.31,88,3.34,15,3.23,58,3.19,58,3.08,58,2.98,92,3.03,15,2.85,22,2.86,90,2.81,14,2.69,70,2.68,77,2.71,88,2.68,9,2.56,78,2.53,90,2.51,9,2.43,24,2.38,62,2.36,76,2.43,18,2.27,38,2.17,36,2.08,46,1.98,26,1.93,55,1.84,26,1.67,38,1.66,58,1.67,48,1.62,38,1.43,48,1.38],
[14,2.97,86,3.07,49,2.87,93,2.84,51,2.74,51,2.64,94,2.68,65,2.57,85,2.52,40,2.36,85,2.38,7,2.31,12,2.25,63,2.36,41,2.23,53,2.3,94,2.31,82,2.14,7,2.06,63,2.06,17,1.97,69,2.01,27,1.85,43,1.93,27,1.64],
[91,3.44,43,3.39,90,3.24,18,2.97,92,2.96,8,2.62,14,2.56,66,2.72,66,2.61,90,2.64,8,2.3,14,2.3,61,2.47,68,2.38,78,2.43,86,2.43,38,2.16,67,2.22,26,2.09,19,1.98,76,2.12,40,1.84],
[93,3.02,93,2.9,90,2.82,55,2.65,60,2.52,6,2.46,6,2.35,6,2.26,62,2.43,71,2.35,88,2.51,93,2.43,27,2.13,44,2.18,44,2.09,60,2.12,7,2.01,19,1.99]];
const laiBlupPeaks = [[1,38,4.23],[3,63,4.12],[4,90,6.07],[4,89,4.61],[7,88,4.19]];

// Marker annotations: [text, x, baseline y]
const labelsLia22sy = [["Marker.672953",1302,121],["Marker.672955",1302,146]];
const labelsLia23fx = [["Marker.642198",1079,917],["Marker.642693",1253,929]];
const labelsLiaBlup = [["Marker.642693",1253,1452],["Marker.672953",1302,1550],["Marker.672955",1302,1573],["Marker.642198",1094,1599]];
const labelsLai22sy = [["Marker.418877",2403,93]];
const labelsLai23fx = [];
const labelsLaiBlup = [["Marker.418877",2400,1478]];

// Layout (not data)
const SVGNS = "http://www.w3.org/2000/svg";
const rows = [{top:79,base:676.3,labelDrop:13},{top:725.8,base:1365.8,labelDrop:13},{top:1413.7,base:1998,labelDrop:16}];
const cols = [
  {key:"lia",axisX:85,startX:92,lineEnd:1576,tagX:[95,93,95],titleX:46,titleCY:[358,1060,1694],chrX:57},
  {key:"lai",axisX:1677,startX:1686,lineEnd:3170,tagX:[1694,1693,1700],titleX:1632,titleCY:[358,1058,1694],chrX:1648}
];
const pxPerMb = 0.68;
const gapMb = 6.25;
const massR = 5.6;
const dotR = 6.4;
const peakR = 13;
const panels = [
  {col:0,row:0,mass:lia22syMass,dots:lia22syDots,peaks:lia22syPeaks,labels:labelsLia22sy},
  {col:0,row:1,mass:lia23fxMass,dots:lia23fxDots,peaks:lia23fxPeaks,labels:labelsLia23fx},
  {col:0,row:2,mass:liaBlupMass,dots:liaBlupDots,peaks:liaBlupPeaks,labels:labelsLiaBlup},
  {col:1,row:0,mass:lai22syMass,dots:lai22syDots,peaks:lai22syPeaks,labels:labelsLai22sy},
  {col:1,row:1,mass:lai23fxMass,dots:lai23fxDots,peaks:lai23fxPeaks,labels:labelsLai23fx},
  {col:1,row:2,mass:laiBlupMass,dots:laiBlupDots,peaks:laiBlupPeaks,labels:labelsLaiBlup}
];

function make(tag, attrs, parent, text){
  const el = document.createElementNS(SVGNS, tag);
  for (const k in attrs) el.setAttribute(k, attrs[k]);
  if (text !== undefined) el.textContent = text;
  parent.appendChild(el);
  return el;
}
function chrOffsetMb(c){
  let s = 0;
  for (let i = 0; i < c; i++) s += chrLengthsMb[i] + gapMb;
  return s;
}
function xScale(col, c, pct){
  return col.startX + (chrOffsetMb(c) + chrLengthsMb[c] * pct / 100) * pxPerMb;
}
function yScale(row, yMax, v){
  return row.base - v * (row.base - row.top) / yMax;
}

const root = document.getElementById("plots");
panels.forEach(function(p){
  const col = cols[p.col], row = rows[p.row], yMax = yMaxima[p.row], tag = panelTags[p.row];
  const prefix = col.key + "-" + tag.toLowerCase();
  const g = make("g", {}, root);
  
  

  // threshold
  const thY = yScale(row, yMax, threshold[0]);
  const th = make("line", {x1:col.axisX, x2:col.lineEnd-3, y1:thY, y2:thY, stroke:"#8a8a8a", "stroke-width":3, "stroke-dasharray":"5 4"}, g);
  
  

  // solid mass of each chromosome
  p.mass.forEach(function(vals, c){
    const x0 = xScale(col, c, 0) + massR, x1 = xScale(col, c, 100) - massR;
    const base = yScale(row, yMax, 0);
    let pts = x0 + "," + base;
    vals.forEach(function(v, i){
      const x = x0 + (x1 - x0) * i / (vals.length - 1);
      pts += " " + x.toFixed(1) + "," + yScale(row, yMax, v).toFixed(1);
    });
    pts += " " + x1 + "," + base;
    const m = make("polygon", {points:pts, fill:chrColors[c], stroke:chrColors[c], "stroke-width":massR*2, "stroke-linejoin":"round"}, g);
    
    
  });

  // scatter points
  p.dots.forEach(function(arr, c){
    const dg = make("g", {fill:chrColors[c]}, g);
    
    
    for (let i = 0; i + 1 < arr.length; i += 2){
      const d = make("circle", {cx:xScale(col, c, arr[i]).toFixed(1), cy:yScale(row, yMax, arr[i+1]).toFixed(1), r:dotR}, dg);
      
      
    }
  });

  // highlighted peaks
  p.peaks.forEach(function(k){
    const c = k[0] - 1;
    const d = make("circle", {cx:xScale(col, c, k[1]).toFixed(1), cy:yScale(row, yMax, k[2]).toFixed(1), r:peakR, fill:chrColors[c]}, g);
    
    
  });

  // y axis
  const ax = make("line", {x1:col.axisX, x2:col.axisX, y1:row.top-1.5, y2:row.base+1.5, stroke:"#222", "stroke-width":3.5}, g);
  
  
  for (let t = 0; t <= yMax; t++){
    const y = yScale(row, yMax, t);
    const tk = make("line", {x1:col.axisX-9, x2:col.axisX, y1:y, y2:y, stroke:"#222", "stroke-width":3}, g);
    
    
    const tl = make("text", {x:col.axisX-11, y:y+row.labelDrop, "font-size":34, "text-anchor":"end"}, g, String(t));
    
    
  }

  // y title
  const cy = col.titleCY[p.row];
  const yt = make("text", {transform:"translate(" + col.titleX + "," + cy + ") rotate(-90)", "font-size":34, "text-anchor":"middle"}, g);
  
  
  make("tspan", {}, yt, "\u2212Log");
  make("tspan", {"font-size":21, dy:8}, yt, "10");
  make("tspan", {dy:-8}, yt, "(");
  make("tspan", {"font-style":"italic"}, yt, "P");
  make("tspan", {}, yt, ")");

  // panel tag
  const pt = make("text", {x:col.tagX[p.row], y:row.top + (p.row===0?14:p.row===1?18:16), "font-size":32}, g, tag);
  
  

  // marker labels
  p.labels.forEach(function(l){
    const t = make("text", {x:l[1], y:l[2], "font-size":22.4}, g, l[0]);
    
    
  });

  // x axis only on the bottom row
  if (p.row === 2){
    const xa = make("line", {x1:col.axisX-2, x2:col.lineEnd, y1:2020, y2:2020, stroke:"#444", "stroke-width":4}, g);
    
    
    const st = make("line", {x1:col.axisX-1, x2:col.axisX-1, y1:2020, y2:2030, stroke:"#444", "stroke-width":3}, g);
    
    
    const cl = make("text", {x:col.chrX, y:2068, "font-size":33}, g, "Chr");
    
    
    chrLabels.forEach(function(lab, c){
      const x = xScale(col, c, 50);
      const tk = make("line", {x1:x, x2:x, y1:2020, y2:2030, stroke:"#444", "stroke-width":3}, g);
      
      
      const tl = make("text", {x:x-1, y:2068, "font-size":34, "text-anchor":"middle"}, g, lab);
      
      
    });
  }
});
</script>
</body>
</html>
